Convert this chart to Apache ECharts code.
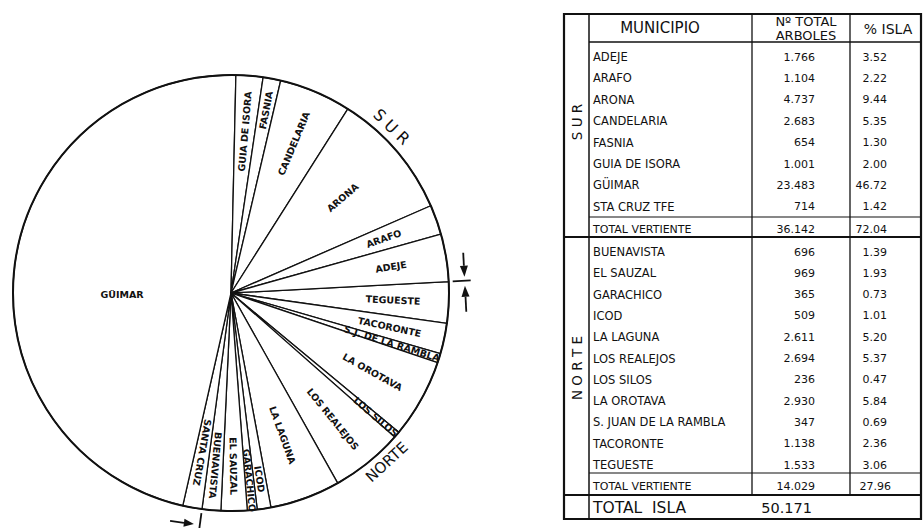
<!DOCTYPE html>
<html>
<head>
<meta charset="utf-8">
<script src="https://cdn.jsdelivr.net/npm/echarts@6/dist/echarts.min.js"></script>
<style>
  html, body { margin: 0; padding: 0; background: #fff; }
  #chart { width: 924px; height: 528px; }
</style>
</head>
<body>
<div id="chart"></div>
<script>
// ---- Vertiente Sur ----
const surMunicipios = ['ADEJE', 'ARAFO', 'ARONA', 'CANDELARIA', 'FASNIA', 'GUIA DE ISORA', 'GÜIMAR', 'STA CRUZ TFE'];
const surArboles = [1766, 1104, 4737, 2683, 654, 1001, 23483, 714];
const surPct = [3.52, 2.22, 9.44, 5.35, 1.30, 2.00, 46.72, 1.42];
const surTotal = 36142;
const surTotalPct = 72.04;

// ---- Vertiente Norte ----
const norteMunicipios = ['BUENAVISTA', 'EL SAUZAL', 'GARACHICO', 'ICOD', 'LA LAGUNA', 'LOS REALEJOS', 'LOS SILOS', 'LA OROTAVA', 'S. JUAN DE LA RAMBLA', 'TACORONTE', 'TEGUESTE'];
const norteArboles = [696, 969, 365, 509, 2611, 2694, 236, 2930, 347, 1138, 1533];
const nortePct = [1.39, 1.93, 0.73, 1.01, 5.20, 5.37, 0.47, 5.84, 0.69, 2.36, 3.06];
const norteTotal = 14029;
const norteTotalPct = 27.96;

const islaTotal = 50171;

// Sector order clockwise from the Norte/Sur divider, and the text written inside each sector
const pieOrder = ['TEGUESTE', 'TACORONTE', 'S. JUAN DE LA RAMBLA', 'LA OROTAVA', 'LOS SILOS', 'LOS REALEJOS', 'LA LAGUNA', 'ICOD', 'GARACHICO', 'EL SAUZAL', 'BUENAVISTA', 'STA CRUZ TFE', 'GÜIMAR', 'GUIA DE ISORA', 'FASNIA', 'CANDELARIA', 'ARONA', 'ARAFO', 'ADEJE'];
const pieLabels = ['TEGUESTE', 'TACORONTE', 'S.J. DE LA RAMBLA', 'LA OROTAVA', 'LOS SILOS', 'LOS REALEJOS', 'LA LAGUNA', 'ICOD', 'GARACHICO', 'EL SAUZAL', 'BUENAVISTA', 'SANTA CRUZ', 'GÜIMAR', 'GUIA DE ISORA', 'FASNIA', 'CANDELARIA', 'ARONA', 'ARAFO', 'ADEJE'];

// ---- layout / style ----
const INK = '#111';
const FONT = '"DejaVu Sans", "Liberation Sans", sans-serif';
const CX = 231, CY = 293, R = 218, START = 3;

// distance of each sector caption from the centre, as a fraction of the radius
const labelRing = {
  'GÜIMAR': 0.49,
  'ARONA': 0.66, 'LA LAGUNA': 0.68,
  'EL SAUZAL': 0.78, 'BUENAVISTA': 0.78, 'S. JUAN DE LA RAMBLA': 0.76,
  'LOS SILOS': 0.86, 'ICOD': 0.85, 'GARACHICO': 0.85, 'FASNIA': 0.84
};

const allNames = surMunicipios.concat(norteMunicipios);
const allArboles = surArboles.concat(norteArboles);
const pieValues = pieOrder.map(n => allArboles[allNames.indexOf(n)]);
const pieSum = pieValues.reduce((a, b) => a + b, 0);

// caption rotation: along the radius, reading outwards (GÜIMAR kept level)
const rotations = [];
let acc = 0;
pieValues.forEach((v, i) => {
  const mid = -START + 360 * (acc + v / 2) / pieSum;
  acc += v;
  let rot = -mid;
  while (rot <= -180) rot += 360;
  while (rot > 180) rot -= 360;
  rotations.push(pieOrder[i] === 'GÜIMAR' ? 0 : rot);
});

const sectorSeries = {
  type: 'pie',
  silent: true,
  center: [CX, CY],
  radius: [0, R],
  startAngle: START,
  clockwise: true,
  animation: false,
  label: { show: false },
  labelLine: { show: false },
  itemStyle: { color: '#fff', borderColor: INK, borderWidth: 1.3 },
  data: pieOrder.map((n, i) => ({ name: pieLabels[i], value: pieValues[i] }))
};

// transparent companion rings that only carry the captions at the wanted distance
const ringGroups = {};
pieOrder.forEach((n, i) => {
  const f = labelRing[n] || 0.73;
  (ringGroups[f] = ringGroups[f] || []).push(i);
});
const captionSeries = Object.keys(ringGroups).map(key => {
  const f = parseFloat(key);
  const members = ringGroups[key];
  return {
    type: 'pie',
    silent: true,
    center: [CX, CY],
    radius: [0, 2 * f * R],
    startAngle: START,
    clockwise: true,
    animation: false,
    avoidLabelOverlap: false,
    labelLayout: { hideOverlap: false },
    labelLine: { show: false },
    emphasis: { disabled: true },
    itemStyle: { color: 'rgba(0,0,0,0)', borderWidth: 0 },
    label: {
      show: true, position: 'inside', formatter: '{b}',
      color: INK, fontFamily: FONT, fontSize: 9.5, fontWeight: 'bold'
    },
    data: pieOrder.map((n, i) => ({
      name: pieLabels[i],
      value: pieValues[i],
      label: {
        show: members.indexOf(i) >= 0,
        rotate: rotations[i],
        offset: pieOrder[i] === 'GÜIMAR' ? [0, 15] : [0, 0]
      }
    }))
  };
});

// ---- graphic helpers ----
const g = [];
function line(x1, y1, x2, y2, w) {
  g.push({ type: 'line', silent: true, z: 50, shape: { x1, y1, x2, y2 }, style: { stroke: INK, lineWidth: w || 1.2 } });
}
function text(x, y, s, size, align, opts) {
  const o = Object.assign({
    type: 'text', silent: true, z: 60, x, y,
    style: { text: s, fill: INK, font: (opts && opts.weight ? opts.weight + ' ' : '') + size + 'px ' + FONT, textAlign: align || 'left', textVerticalAlign: 'middle' }
  }, opts && opts.rotation !== undefined ? { rotation: opts.rotation } : {});
  g.push(o);
}
function arrow(tx, ty, dx, dy, len, head, w) {
  // tip at (tx,ty), pointing along (dx,dy)
  const bx = tx - dx * head, by = ty - dy * head;
  const px = -dy, py = dx;
  g.push({ type: 'polygon', silent: true, z: 50, shape: { points: [[tx, ty], [bx + px * w, by + py * w], [bx - px * w, by - py * w]] }, style: { fill: INK } });
  line(bx, by, tx - dx * len, ty - dy * len, 1.8);
}
const fmtInt = v => String(v).replace(/\B(?=(\d{3})+(?!\d))/g, '.');
const fmtPct = v => v.toFixed(2);

// circle outline
g.push({ type: 'circle', silent: true, z: 40, shape: { cx: CX, cy: CY, r: R }, style: { fill: 'none', stroke: INK, lineWidth: 2 } });

// Norte / Sur dividers extended beyond the circle, with arrow marks
const rad = Math.PI / 180;
const a1 = -START * rad;
const a2 = (-START + 360 * norteArboles.reduce((a, b) => a + b, 0) / pieSum) * rad;
[a1, a2].forEach((a, k) => {
  const ux = Math.cos(a), uy = Math.sin(a);
  line(CX + ux * (R + 4), CY + uy * (R + 4), CX + ux * (R + 22), CY + uy * (R + 22), 1.8);
  const mx = CX + ux * (R + 16), my = CY + uy * (R + 16);
  const px = -uy, py = ux;
  if (k === 0) {
    arrow(mx - px * 4, my - py * 4, px, py, 24, 11, 4);
    arrow(mx + px * 5, my + py * 5, -px, -py, 26, 11, 4);
  } else {
    arrow(mx + px * 6, my + py * 6, -px, -py, 24, 10, 4);
  }
});

// SUR / NORTE captions around the rim
const surAng = -46 * rad;
text(CX + Math.cos(surAng) * (R + 13), CY + Math.sin(surAng) * (R + 13), 'S U R', 16, 'center', { rotation: -(surAng + Math.PI / 2) });
const norteAng = (a1 + a2) / 2;
text(CX + Math.cos(norteAng) * (R + 12), CY + Math.sin(norteAng) * (R + 12), 'NORTE', 15, 'center', { rotation: -(norteAng - Math.PI / 2) });

// ---- table ----
const TX0 = 564, TX1 = 589, TX2 = 752, TX3 = 850, TX4 = 921;
const TY0 = 14, TYH = 42, TYS = 217, TYSEP = 237, TYN = 473, TYI = 495, TY1 = 519;
const NUM_R = 815, PCT_R = 887, NAME_L = 593;
const ROW_FS = 11.5, NUM_FS = 11;

g.push({ type: 'rect', silent: true, z: 50, shape: { x: TX0, y: TY0, width: TX4 - TX0, height: TY1 - TY0 }, style: { fill: 'none', stroke: INK, lineWidth: 2.2 } });
line(TX1, TY0, TX1, TY1, 1.5);
line(TX2, TY0, TX2, TYI, 1.3);
line(TX3, TY0, TX3, TYI, 1.3);
line(TX1, TYH, TX4, TYH, 1.5);
line(TX1, TYS, TX4, TYS, 1.2);
line(TX0, TYSEP, TX4, TYSEP, 2);
line(TX1, TYN, TX4, TYN, 1.2);
line(TX0, TYI, TX4, TYI, 2);

text(660, 28, 'MUNICIPIO', 15, 'center');
text(806, 21, 'Nº TOTAL', 13, 'center');
text(806, 35, 'ARBOLES', 13, 'center');
text(888, 29, '% ISLA', 14, 'center');

text(577, 122, 'S U R', 13.5, 'center', { rotation: Math.PI / 2 });
text(577, 368, 'N O R T E', 13.5, 'center', { rotation: Math.PI / 2 });

surMunicipios.forEach((n, i) => {
  const y = 57 + i * 21.4;
  text(NAME_L, y, n, ROW_FS, 'left');
  text(NUM_R, y, fmtInt(surArboles[i]), NUM_FS, 'right');
  text(PCT_R, y, fmtPct(surPct[i]), NUM_FS, 'right');
});
text(NAME_L, 229, 'TOTAL VERTIENTE', 11, 'left');
text(NUM_R, 229, fmtInt(surTotal), NUM_FS, 'right');
text(PCT_R, 229, fmtPct(surTotalPct), NUM_FS, 'right');

norteMunicipios.forEach((n, i) => {
  const y = 252 + i * 21.3;
  text(NAME_L, y, n, ROW_FS, 'left');
  text(NUM_R, y, fmtInt(norteArboles[i]), NUM_FS, 'right');
  text(PCT_R, y, fmtPct(nortePct[i]), NUM_FS, 'right');
});
text(NAME_L, 486, 'TOTAL VERTIENTE', 11, 'left');
text(NUM_R, 486, fmtInt(norteTotal), NUM_FS, 'right');
text(PCT_R + 4, 486, fmtPct(norteTotalPct), NUM_FS, 'right');

text(NAME_L, 508, 'TOTAL  ISLA', 15.5, 'left');
text(812, 508, fmtInt(islaTotal), 14.5, 'right');

const chart = echarts.init(document.getElementById('chart'), null, { renderer: 'svg' });
chart.setOption({
  animation: false,
  backgroundColor: '#fff',
  series: [sectorSeries].concat(captionSeries),
  graphic: { elements: g }
});
</script>
</body>
</html>
